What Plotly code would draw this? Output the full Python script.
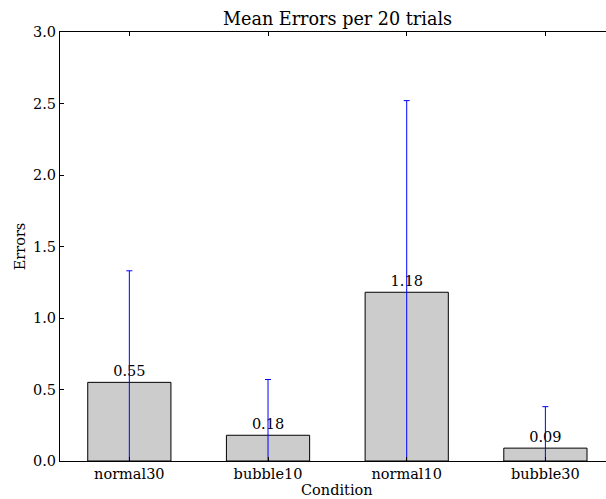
import plotly.graph_objects as go

# Mean error counts per condition (20 trials each)
conditions = ["normal30", "bubble10", "normal10", "bubble30"]
mean_errors = [0.55, 0.18, 1.18, 0.09]
error_spread = [0.78, 0.39, 1.34, 0.29]
y_ticks = [0.0, 0.5, 1.0, 1.5, 2.0, 2.5, 3.0]

positions = list(range(len(conditions)))
serif = "DejaVu Serif"
base = 14.5

fig = go.Figure(
    go.Bar(
        x=positions,
        y=mean_errors,
        width=0.6,
        marker=dict(color="#cccccc", line=dict(color="black", width=1)),
        text=[f"{v:.2f}" for v in mean_errors],
        textposition="outside",
        textfont=dict(family=serif, size=base, color="black"),
        error_y=dict(type="data", array=error_spread, symmetric=True,
                     color="#0000ff", thickness=1, width=3),
        cliponaxis=False,
        hoverinfo="skip",
    )
)

fig.update_layout(
    width=606,
    height=499,
    margin=dict(l=60, r=0, t=32, b=38),
    paper_bgcolor="white",
    plot_bgcolor="white",
    showlegend=False,
    font=dict(family=serif, size=base, color="black"),
    xaxis=dict(
        range=[-0.5, 3.437],
        tickvals=positions,
        ticktext=conditions,
        ticks="inside",
        ticklen=4,
        tickcolor="black",
        showline=True,
        linecolor="black",
        linewidth=1,
        mirror="ticks",
        showgrid=False,
        zeroline=False,
    ),
    yaxis=dict(
        range=[0, 3],
        tickvals=y_ticks,
        tickformat=".1f",
        ticks="inside",
        ticklen=4,
        tickcolor="black",
        showline=True,
        linecolor="black",
        linewidth=1,
        showgrid=False,
        zeroline=False,
        title=dict(text="Errors", font=dict(family=serif, size=base), standoff=3),
    ),
    annotations=[
        dict(text="Mean Errors per 20 trials", xref="x", yref="paper",
             x=1.5, y=1, yanchor="bottom", yshift=1, showarrow=False,
             font=dict(family=serif, size=17.6, color="black")),
        dict(text="Condition", xref="x", yref="paper",
             x=1.5, y=0, yanchor="top", yshift=-19, showarrow=False,
             font=dict(family=serif, size=base, color="black")),
    ],
)

fig.write_html("out.html")
